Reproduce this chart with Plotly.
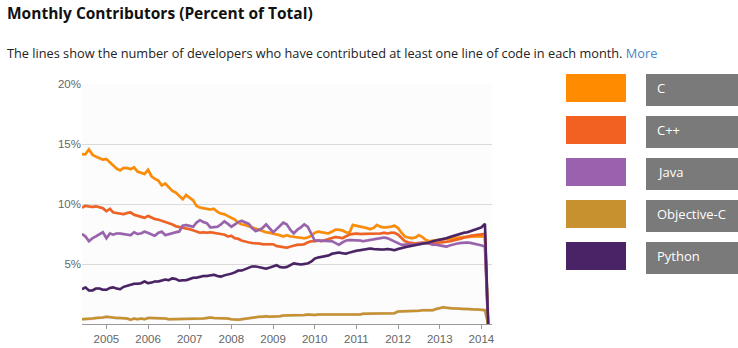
import plotly.graph_objects as go
import pandas as pd

# monthly share of contributors, Jun 2004 .. Mar 2014
months = pd.date_range("2004-06-01", periods=118, freq="MS")

languages = ["C", "C++", "Java", "Objective-C", "Python"]

c_vals = [14.15, 14.15, 14.55, 14.1, 13.95, 13.8, 13.7, 13.75, 13.5, 13.25,
          12.95, 12.8, 13.0, 13.0, 12.9, 13.05, 12.7, 12.6, 12.5, 12.85,
          12.3, 12.1, 11.95, 11.55, 11.7, 11.4, 11.1, 10.95, 10.7, 10.4,
          10.75, 10.55, 10.3, 9.85, 9.7, 9.65, 9.6, 9.55, 9.6, 9.35,
          9.2, 9.15, 9.0, 8.85, 8.7, 8.45, 8.3, 8.25, 8.15, 8.0,
          7.95, 7.8, 7.7, 7.65, 7.6, 7.55, 7.5, 7.4, 7.3, 7.4,
          7.3, 7.25, 7.25, 7.15, 7.15, 7.2, 7.35, 7.6, 7.7, 7.65,
          7.6, 7.55, 7.7, 7.85, 7.85, 7.8, 7.65, 7.6, 8.25, 8.2,
          8.1, 8.05, 8.0, 7.9, 8.0, 8.25, 8.1, 8.05, 8.05, 8.1,
          8.2, 8.0, 7.6, 7.3, 7.2, 7.15, 7.2, 7.4, 7.25, 7.0,
          6.9, 6.95, 7.0, 7.05, 7.05, 7.1, 7.1, 7.15, 7.2, 7.2,
          7.25, 7.25, 7.3, 7.3, 7.3, 7.3, 7.3, 0]

cpp_vals = [9.7, 9.85, 9.8, 9.75, 9.8, 9.75, 9.65, 9.4, 9.6, 9.3,
            9.25, 9.2, 9.15, 9.25, 9.3, 9.1, 9.0, 8.95, 8.85, 9.0,
            8.85, 8.75, 8.7, 8.6, 8.5, 8.45, 8.3, 8.15, 8.1, 8.05,
            8.0, 7.9, 7.8, 7.7, 7.6, 7.65, 7.6, 7.65, 7.6, 7.55,
            7.5, 7.45, 7.3, 7.35, 7.15, 7.1, 6.95, 6.85, 6.8, 6.75,
            6.75, 6.7, 6.65, 6.65, 6.6, 6.65, 6.5, 6.45, 6.4, 6.35,
            6.45, 6.55, 6.6, 6.6, 6.65, 6.8, 6.9, 6.9, 6.95, 6.9,
            7.0, 7.05, 7.15, 7.25, 7.2, 7.15, 7.3, 7.45, 7.5, 7.55,
            7.5, 7.5, 7.55, 7.5, 7.55, 7.55, 7.55, 7.6, 7.55, 7.6,
            7.6, 7.45, 7.15, 6.9, 6.8, 6.75, 6.7, 6.75, 6.8, 6.75,
            6.7, 6.75, 6.7, 6.8, 6.8, 6.85, 6.9, 6.95, 7.05, 7.1,
            7.2, 7.3, 7.35, 7.4, 7.45, 7.5, 7.5, 0]

java_vals = [7.5, 7.3, 6.9, 7.15, 7.3, 7.45, 7.65, 7.15, 7.55, 7.45,
             7.55, 7.55, 7.5, 7.5, 7.4, 7.65, 7.5, 7.55, 7.7, 7.6,
             7.45, 7.35, 7.6, 7.7, 7.4, 7.5, 7.55, 7.65, 7.7, 8.2,
             8.25, 8.15, 8.1, 8.45, 8.65, 8.5, 8.4, 8.05, 8.05, 8.1,
             8.3, 8.55, 8.35, 8.1, 8.3, 8.5, 8.6, 8.45, 8.35, 8.0,
             7.75, 7.85, 8.0, 8.3, 8.0, 7.65, 7.9, 8.2, 8.45, 8.3,
             7.85, 7.55, 7.85, 8.05, 8.3, 8.1, 7.5, 6.95, 6.95, 6.95,
             6.9, 6.95, 6.9, 6.75, 6.6, 6.8, 6.95, 7.0, 7.0, 6.95,
             6.95, 6.9, 6.95, 7.0, 7.05, 7.1, 7.15, 7.2, 7.15, 7.0,
             6.85, 6.75, 6.6, 6.6, 6.65, 6.6, 6.65, 6.7, 6.7, 6.75,
             6.7, 6.6, 6.6, 6.55, 6.5, 6.45, 6.55, 6.65, 6.7, 6.75,
             6.8, 6.8, 6.75, 6.7, 6.65, 6.55, 6.45, 0]

objc_vals = [0.4, 0.4, 0.45, 0.45, 0.5, 0.5, 0.55, 0.6, 0.55, 0.5,
             0.5, 0.5, 0.5, 0.45, 0.35, 0.45, 0.4, 0.45, 0.4, 0.5,
             0.5, 0.5, 0.45, 0.45, 0.45, 0.4, 0.4, 0.45, 0.45, 0.45,
             0.45, 0.4, 0.45, 0.45, 0.45, 0.45, 0.5, 0.55, 0.5, 0.5,
             0.5, 0.45, 0.45, 0.4, 0.35, 0.35, 0.4, 0.45, 0.5, 0.5,
             0.55, 0.6, 0.6, 0.65, 0.6, 0.6, 0.65, 0.65, 0.7, 0.7,
             0.75, 0.7, 0.75, 0.75, 0.75, 0.8, 0.75, 0.75, 0.8, 0.8,
             0.8, 0.75, 0.8, 0.8, 0.8, 0.75, 0.75, 0.8, 0.8, 0.8,
             0.8, 0.85, 0.85, 0.85, 0.85, 0.85, 0.85, 0.85, 0.85, 0.9,
             0.9, 1.05, 1.05, 1.05, 1.1, 1.1, 1.1, 1.1, 1.15, 1.15,
             1.15, 1.15, 1.25, 1.35, 1.4, 1.35, 1.3, 1.3, 1.3, 1.25,
             1.25, 1.25, 1.2, 1.2, 1.2, 1.2, 1.15, 0]

python_vals = [2.9, 3.05, 2.8, 2.8, 2.95, 2.95, 2.85, 2.85, 3.0, 3.05,
               2.95, 2.9, 3.1, 3.2, 3.3, 3.35, 3.35, 3.4, 3.55, 3.4,
               3.45, 3.55, 3.55, 3.65, 3.7, 3.65, 3.8, 3.75, 3.6, 3.65,
               3.65, 3.75, 3.85, 3.85, 3.95, 4.0, 4.0, 4.05, 4.1, 4.0,
               3.95, 4.05, 4.1, 4.2, 4.3, 4.45, 4.45, 4.55, 4.7, 4.8,
               4.8, 4.75, 4.65, 4.6, 4.7, 4.8, 4.9, 4.75, 4.7, 4.75,
               4.9, 5.05, 5.0, 4.95, 5.0, 5.05, 5.2, 5.45, 5.55, 5.6,
               5.6, 5.7, 5.85, 5.9, 5.95, 5.9, 5.85, 5.95, 6.05, 6.1,
               6.15, 6.2, 6.25, 6.3, 6.25, 6.2, 6.2, 6.2, 6.25, 6.2,
               6.15, 6.25, 6.35, 6.4, 6.45, 6.5, 6.6, 6.65, 6.7, 6.75,
               6.8, 6.9, 6.95, 7.0, 7.1, 7.15, 7.25, 7.35, 7.45, 7.5,
               7.6, 7.65, 7.75, 7.8, 7.9, 8.05, 8.35, 0]

series = [c_vals, cpp_vals, java_vals, objc_vals, python_vals]
colors = ["#ff8c00", "#f26122", "#9a62ae", "#c6912e", "#4a2266"]

year_ticks = pd.date_range("2005-01-01", "2014-01-01", freq="YS")
pct_ticks = [5, 10, 15, 20]
pct_labels = [f"{p}%" for p in pct_ticks]

W, H = 738, 348
L, R, T, B = 82, 244, 84, 22
PW = W - L - R
PH = H - T - B


def px(x):
    return (x - L) / PW


def py(y):
    return (H - B - y) / PH


fig = go.Figure()

# invisible trace so the base axes (ticks, grid) get drawn
fig.add_trace(go.Scatter(x=months, y=c_vals, mode="lines", line=dict(width=0),
                         hoverinfo="skip", showlegend=False))

# soft drop shadow under each line, drawn on an offset copy of the axes
for vals in series:
    fig.add_trace(go.Scatter(x=months, y=vals, mode="lines", xaxis="x2", yaxis="y2",
                             line=dict(color="rgba(0,0,0,0.15)", width=3),
                             hoverinfo="skip", showlegend=False))

for name, vals, col in zip(languages, series, colors):
    fig.add_trace(go.Scatter(x=months, y=vals, mode="lines", name=name, xaxis="x3", yaxis="y3",
                             line=dict(color=col, width=2.5), showlegend=False))

xr = ["2004-06-01", "2014-04-04"]
main_x = [0, 410 / PW]
main_y = [2 / PH, 1]
fig.update_layout(
    width=W, height=H,
    margin=dict(l=L, r=R, t=T, b=B),
    paper_bgcolor="white",
    plot_bgcolor="#fcfcfc",
    font=dict(family="Liberation Sans, Arial", color="#666"),
    xaxis=dict(domain=main_x, range=xr, tickvals=year_ticks, tickformat="%Y",
               showgrid=False, showline=True, linecolor="#999", linewidth=1,
               ticks="outside", ticklen=4, tickcolor="#999", tickfont=dict(size=11.5, color="#666"),
               zeroline=False, type="date", automargin=False),
    yaxis=dict(domain=main_y, range=[0, 20], tickvals=pct_ticks, ticktext=pct_labels,
               showgrid=True, gridcolor="#dadada", gridwidth=1, zeroline=False,
               showline=False, ticks="", tickfont=dict(size=11.5, color="#666"), automargin=False),
    xaxis2=dict(domain=[1.5 / PW, 411.5 / PW], range=xr, overlaying="x", visible=False,
                anchor="y2", type="date", automargin=False),
    yaxis2=dict(domain=[0.5 / PH, 240.5 / PH], range=[0, 20], overlaying="y", visible=False,
                anchor="x2", automargin=False),
    xaxis3=dict(domain=main_x, range=xr, overlaying="x", visible=False, anchor="y3", type="date",
                automargin=False),
    yaxis3=dict(domain=main_y, range=[0, 20], overlaying="y", visible=False, anchor="x3",
                automargin=False),
)

shapes = []
annotations = [
    dict(text="<b>Monthly Contributors (Percent of Total)</b>", x=px(5), y=py(13),
         xref="paper", yref="paper", xanchor="left", yanchor="middle", showarrow=False,
         font=dict(family="Open Sans", size=15.5, color="#111")),
    dict(text="The lines show the number of developers who have contributed at least one line "
              "of code in each month. <span style='color:#4a86c5'>More</span>",
         x=px(5), y=py(53), xref="paper", yref="paper", xanchor="left", yanchor="middle",
         showarrow=False, font=dict(family="Open Sans", size=12.75, color="#222")),
]

for k, (name, col) in enumerate(zip(languages, colors)):
    top = 74 + 42 * k
    shapes.append(dict(type="rect", xref="paper", yref="paper", line_width=0, fillcolor=col,
                       x0=px(566), x1=px(626), y0=py(top), y1=py(top + 28)))
    shapes.append(dict(type="rect", xref="paper", yref="paper", line_width=0, fillcolor="#7a7a7a",
                       x0=px(646), x1=px(745), y0=py(top), y1=py(top + 32)))
    annotations.append(dict(text=name, x=px(655), y=py(top + 14), xref="paper", yref="paper",
                            xanchor="left", yanchor="middle", showarrow=False,
                            font=dict(family="Open Sans", size=13, color="white")))

fig.update_layout(shapes=shapes, annotations=annotations)

# the page's default 8px body margin would push the whole chart off its place
fig.write_html("out.html", config={"displayModeBar": False},
               post_script="document.body.style.margin='0';")
